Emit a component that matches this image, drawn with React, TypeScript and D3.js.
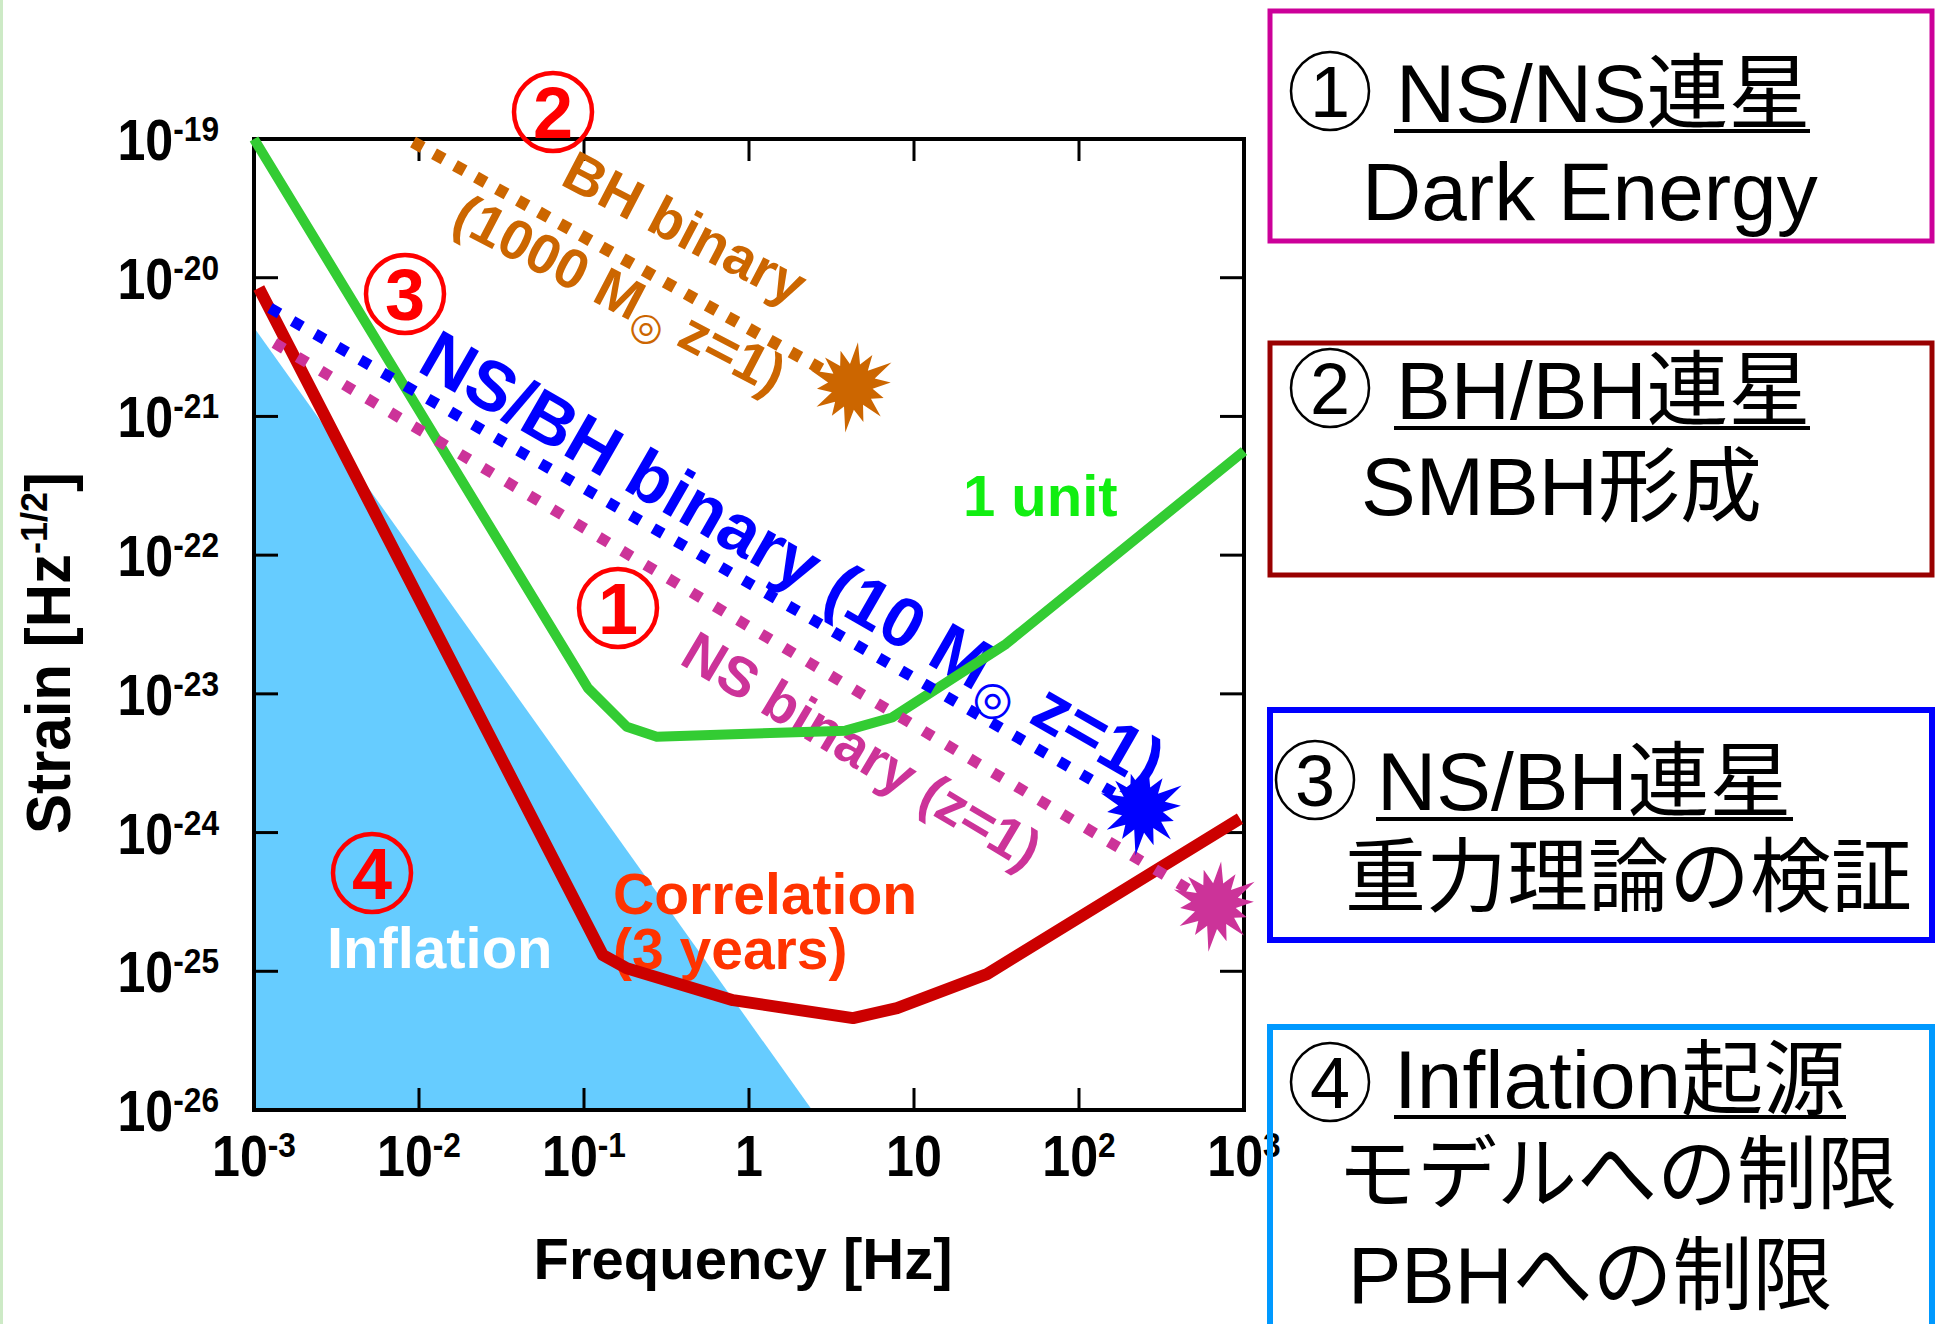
import React from 'react';
import * as d3 from 'd3';

// Axis ticks
const xTickValues = [1e-3, 1e-2, 1e-1, 1, 10, 100, 1000];
const xTickLabels: [string, string][] = [["10", "-3"], ["10", "-2"], ["10", "-1"], ["1", ""], ["10", ""], ["10", "2"], ["10", "3"]];
const yTickValues = [1e-19, 1e-20, 1e-21, 1e-22, 1e-23, 1e-24, 1e-25, 1e-26];
const yTickExp = ["-19", "-20", "-21", "-22", "-23", "-24", "-25", "-26"];

// 1 unit sensitivity (green)
const unitFreq = [1e-3, 0.1057, 0.1816, 0.2761, 3.846, 7.362, 36.14, 1000];
const unitStrain = [1e-19, 1.10e-23, 5.79e-24, 4.91e-24, 5.43e-24, 6.76e-24, 2.29e-23, 5.62e-22];

// Correlation, 3 years (red)
const corrFreq = [1.07e-3, 0.130, 0.1816, 0.80, 4.27, 7.89, 27.7, 946];
const corrStrain = [8.43e-21, 1.31e-25, 1.05e-25, 6.19e-26, 4.60e-26, 5.43e-26, 9.55e-26, 1.26e-24];

// Inflation region boundary
const inflFreq = [1e-3, 2.41, 1e-3];
const inflStrain = [4.37e-21, 1e-26, 1e-26];

// binaries (start of track, merger star)
const nsbhFreq = [1.25e-3, 241];
const nsbhStrain = [6.05e-21, 1.48e-24];
const nsnsFreq = [1.33e-3, 667];
const nsnsStrain = [3.38e-21, 3.0e-25];
const bhbhFreq = [9.2e-3, 4.2];
const bhbhStrain = [9.5e-20, 1.66e-21];

const burstRadii = [44, 23, 37, 22, 46, 24, 39, 21, 34, 23, 42, 22, 38, 24, 47, 22, 36, 23, 41, 21, 35, 24, 44, 22, 39, 23, 37, 22];

const latin = "'Liberation Sans', Arial, Helvetica, sans-serif";
const jp = "'Liberation Sans', Arial, 'Noto Sans CJK JP', sans-serif";

function Circled({ cx, cy, n, color, bold }: { cx: number; cy: number; n: string; color: string; bold?: boolean }) {
    return (
        <g>
            <circle cx={cx} cy={cy} r={39} fill="none" stroke={color} strokeWidth={bold ? 4.5 : 2.5} />
            <text x={cx} y={cy + 26} textAnchor="middle" fontSize={72} fontWeight={bold ? 'bold' : 'normal'} fill={color} fontFamily={latin}>{n}</text>
        </g>
    );
}

export default function App() {
    const x = d3.scaleLog().domain([1e-3, 1e3]).range([254, 1244]);
    const y = d3.scaleLog().domain([1e-26, 1e-19]).range([1110, 139]);

    const path = (fs: number[], hs: number[]) =>
        d3.line<number>().x(f => x(f)).y((_, i) => y(hs[i]))(fs) as string;

    const burst = d3.lineRadial<number>()
        .angle((_, i) => (i * 2 * Math.PI) / burstRadii.length)
        .radius(d => d)
        .curve(d3.curveLinearClosed)(burstRadii) as string;

    const angleOf = (fs: number[], hs: number[]) =>
        (Math.atan2(y(hs[1]) - y(hs[0]), x(fs[1]) - x(fs[0])) * 180) / Math.PI;

    const stars = [
        { f: bhbhFreq[1], h: bhbhStrain[1], c: '#CC6600' },
        { f: nsbhFreq[1], h: nsbhStrain[1], c: '#0000FF' },
        { f: nsnsFreq[1], h: nsnsStrain[1], c: '#CC3399' },
    ];

    const bhAngle = angleOf(bhbhFreq, bhbhStrain) - 1.5;
    const nsbhAngle = angleOf(nsbhFreq, nsbhStrain);
    const nsnsAngle = angleOf(nsnsFreq, nsnsStrain);

    return (
        <svg width={1935} height={1324} style={{ position: 'absolute', left: 0, top: 0, background: '#fff' }} fontFamily={latin}>
            <rect x={0} y={0} width={3} height={1324} fill="#cdeac6" />

            {/* inflation region */}
            <path d={path(inflFreq, inflStrain) + 'Z'} fill="#66CCFF" />

            {/* frame and ticks */}
            <rect x={254} y={139} width={990} height={971} fill="none" stroke="#000" strokeWidth={4} />
            {xTickValues.slice(1, -1).map(v => (
                <g key={'xt' + v}>
                    <line x1={x(v)} x2={x(v)} y1={1110} y2={1088} stroke="#000" strokeWidth={3} />
                    <line x1={x(v)} x2={x(v)} y1={139} y2={161} stroke="#000" strokeWidth={3} />
                </g>
            ))}
            {yTickValues.slice(1, -1).map(v => (
                <g key={'yt' + v}>
                    <line x1={254} x2={278} y1={y(v)} y2={y(v)} stroke="#000" strokeWidth={3} />
                    <line x1={1244} x2={1220} y1={y(v)} y2={y(v)} stroke="#000" strokeWidth={3} />
                </g>
            ))}

            {/* tick labels (condensed bold) */}
            {xTickValues.map((v, i) => (
                <g key={'xl' + v} transform={`translate(${x(v)},1176) scale(0.88,1)`}>
                    <text x={0} y={0} textAnchor="middle" fontSize={57} fontWeight="bold">
                        {xTickLabels[i][0]}
                        {xTickLabels[i][1] && <tspan dy={-19} fontSize={36}>{xTickLabels[i][1]}</tspan>}
                    </text>
                </g>
            ))}
            {yTickValues.map((v, i) => (
                <g key={'yl' + v} transform={`translate(219,${y(v) + 21}) scale(0.88,1)`}>
                    <text x={0} y={0} textAnchor="end" fontSize={57} fontWeight="bold">
                        10<tspan dy={-19} fontSize={36}>{yTickExp[i]}</tspan>
                    </text>
                </g>
            ))}

            {/* axis titles */}
            <text x={743} y={1279} textAnchor="middle" fontSize={58} fontWeight="bold">Frequency [Hz]</text>
            <g transform="translate(70,653) rotate(-90) scale(1,1.05)">
                <text x={0} y={0} textAnchor="middle" fontSize={60} fontWeight="bold">
                    Strain [Hz<tspan dy={-22} fontSize={36}>-1/2</tspan><tspan dy={22}>]</tspan>
                </text>
            </g>

            {/* annotations */}
            <g fontWeight="bold">
                <text transform={`translate(676,245) rotate(${bhAngle})`} textAnchor="middle" fontSize={56} fill="#CC6600">BH binary</text>
                <text transform={`translate(611,311) rotate(${bhAngle})`} textAnchor="middle" fontSize={56} fill="#CC6600">
                    (1000 M<tspan dy={10} fontSize={38} fontFamily="'DejaVu Sans'">◎</tspan><tspan dy={-10}> z=1)</tspan>
                </text>
                <text transform={`translate(781,580) rotate(${nsbhAngle})`} textAnchor="middle" fontSize={70} fill="#0000FF">
                    NS/BH binary (10 M<tspan dy={12} fontSize={46} fontFamily="'DejaVu Sans'">◎</tspan><tspan dy={-12}> z=1)</tspan>
                </text>
                <text transform={`translate(852,767) rotate(${nsnsAngle})`} textAnchor="middle" fontSize={56} fill="#CC3399">NS binary (z=1)</text>
                <text x={963} y={516} fontSize={58} fill="#11EE11">1 unit</text>
                <text x={613} y={914} fontSize={57} fill="#FF3300">Correlation</text>
                <text x={613} y={969} fontSize={57} fill="#FF3300">(3 years)</text>
                <text x={327} y={968} fontSize={58} fill="#FFFFFF">Inflation</text>
            </g>

            {/* curves */}
            <path d={path(unitFreq, unitStrain)} fill="none" stroke="#33CC33" strokeWidth={10} strokeLinejoin="round" />
            <path d={path(corrFreq, corrStrain)} fill="none" stroke="#CC0000" strokeWidth={12} strokeLinejoin="round" />
            <path d={path(bhbhFreq, bhbhStrain)} fill="none" stroke="#CC6600" strokeWidth={12} strokeDasharray="11 13" />
            <path d={path(nsbhFreq, nsbhStrain)} fill="none" stroke="#0000FF" strokeWidth={11} strokeDasharray="11 15" />
            <path d={path(nsnsFreq, nsnsStrain)} fill="none" stroke="#CC3399" strokeWidth={11} strokeDasharray="11 16" />

            {stars.map(s => (
                <path key={s.c} d={burst} transform={`translate(${x(s.f)},${y(s.h)}) rotate(8)`} fill={s.c} />
            ))}

            {/* circled numbers */}
            <Circled cx={618} cy={608} n="1" color="#FF0000" bold />
            <Circled cx={553} cy={112} n="2" color="#FF0000" bold />
            <Circled cx={405} cy={294} n="3" color="#FF0000" bold />
            <Circled cx={372} cy={873} n="4" color="#FF0000" bold />

            {/* right boxes */}
            <g fontFamily={jp} fontSize={82} fill="#000">
                <rect x={1270} y={11} width={662} height={230} fill="none" stroke="#CC0099" strokeWidth={5} />
                <Circled cx={1330} cy={91} n="1" color="#000" />
                <text x={1396} y={122}>NS/NS連星</text>
                <line x1={1394} x2={1810} y1={131} y2={131} stroke="#000" strokeWidth={4} />
                <text x={1362} y={220}>Dark Energy</text>

                <rect x={1270} y={343} width={662} height={232} fill="none" stroke="#990000" strokeWidth={5} />
                <Circled cx={1330} cy={388} n="2" color="#000" />
                <text x={1396} y={419}>BH/BH連星</text>
                <line x1={1394} x2={1810} y1={428} y2={428} stroke="#000" strokeWidth={4} />
                <text x={1361} y={515}>SMBH形成</text>

                <rect x={1270} y={710} width={662} height={230} fill="none" stroke="#0000FF" strokeWidth={6} />
                <Circled cx={1315} cy={780} n="3" color="#000" />
                <text x={1377} y={810}>NS/BH連星</text>
                <line x1={1376} x2={1793} y1={819} y2={819} stroke="#000" strokeWidth={4} />
                <text x={1345} y={905} fontSize={81}>重力理論の検証</text>

                <rect x={1270} y={1027} width={662} height={320} fill="none" stroke="#0099FF" strokeWidth={6} />
                <Circled cx={1330} cy={1082} n="4" color="#000" />
                <text x={1394} y={1108}>Inflation起源</text>
                <line x1={1394} x2={1846} y1={1117} y2={1117} stroke="#000" strokeWidth={4} />
                <text x={1337} y={1202} fontSize={80}>モデルへの制限</text>
                <text x={1348} y={1303} fontSize={80}>PBHへの制限</text>
            </g>
        </svg>
    );
}
